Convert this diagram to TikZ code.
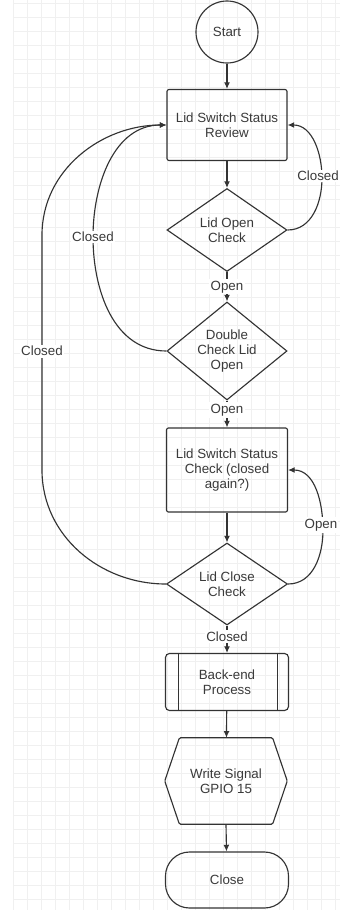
\documentclass[tikz,border=0pt]{standalone}
\usepackage{fontspec}
\setmainfont{Liberation Sans}
\usetikzlibrary{arrows.meta,shapes.geometric}
\definecolor{ink}{HTML}{333333}
\definecolor{txt}{HTML}{3A3A3A}
\begin{document}
\begin{tikzpicture}[x=0.75pt,y=-0.75pt,
  font=\fontsize{10}{11.5}\selectfont,
  every node/.style={text=txt},
  gridline/.style={draw=black!6,line width=0.4pt},
  line/.style={draw=ink,line width=0.85pt},
  arr/.style={line,-{Latex[length=5pt,width=4.5pt]}},
  box/.style={line,rectangle,rounded corners=1.5pt,align=center,inner sep=2pt,
    minimum width=90pt},
  dia/.style={line,diamond,aspect=1.3,inner sep=0pt,align=center,
    minimum width=90pt},
  startnode/.style={line,circle,minimum size=46.5pt,inner sep=0pt},
  lbl/.style={fill=white,inner sep=1.2pt},
]
\useasboundingbox (0,0) rectangle (340,910);
\fill[white] (0,0) rectangle (340,910);
\foreach \gx in {13,27,...,340} \draw[gridline] (\gx,0) -- (\gx,910);
\foreach \gy in {3,17,...,910} \draw[gridline] (13,\gy) -- (340,\gy);

\node[startnode] (start) at (227,32) {Start};
\node[box,minimum height=53.25pt] (b1) at (227,125) {Lid Switch Status\\Review};
\node[dia,minimum height=62.25pt] (d1) at (227,230) {Lid Open\\Check};
\node[dia,minimum height=73.5pt] (d2) at (227,351) {Double\\Check Lid\\Open};
\node[box,minimum width=90.75pt,minimum height=63pt] (b2) at (227,470) {Lid Switch Status\\Check (closed\\again?)};
\node[dia,minimum width=90.75pt,minimum height=61.5pt] (d3) at (227,584) {Lid Close\\Check};
\node[box,rounded corners=3pt,minimum width=92.25pt,minimum height=42.75pt] (be) at (227,682) {Back-end\\Process};
\draw[line] ([xshift=10pt]be.north west) -- ([xshift=10pt]be.south west);
\draw[line] ([xshift=-8.5pt]be.north east) -- ([xshift=-8.5pt]be.south east);
\node[align=center,inner sep=0pt,minimum width=91.5pt,minimum height=64.5pt] (hex) at (226,781) {Write Signal\\GPIO 15};
\draw[line,rounded corners=1pt] ([xshift=11pt]hex.north west) -- ([xshift=-11pt]hex.north east) -- (hex.east)
  -- ([xshift=-11pt]hex.south east) -- ([xshift=11pt]hex.south west) -- (hex.west) -- cycle;
\node[line,rectangle,rounded corners=18pt,minimum width=92.25pt,minimum height=42pt] (close) at (227,880) {Close};

\draw[arr] (start) -- (b1);
\draw[arr] (b1) -- (d1);
\draw[arr] (d1.south) -- node[lbl]{Open} (d2.north);
\draw[arr] (d2.south) -- node[lbl,pos=0.35]{Open} (b2.north);
\draw[arr] (b2) -- (d3);
\draw[arr] (d3.south) -- node[lbl,pos=0.4]{Closed} (be.north);
\draw[arr] (be) -- (hex);
\draw[arr] (hex.south) -- (close);

\coordinate (r1) at (322,178);
\draw[arr] (d1.east) to[out=0,in=-90] (r1) to[out=90,in=0] (b1.east);
\node[lbl,inner xsep=0.6pt] (l1) at (318,176) {Closed};
\coordinate (r2) at (323,530);
\draw[arr] (d3.east) to[out=0,in=-90] (r2) to[out=90,in=0] (b2.east);
\node[lbl,inner xsep=0.6pt] (l2) at (321,525) {Open};
\coordinate (m1) at (93,237);
\draw[arr] (d2.west) to[out=180,in=-90] (m1) to[out=90,in=180] (b1.west);
\node[lbl] (l3) at (m1) {Closed};
\coordinate (o1) at (42,470);
\coordinate (o2) at (42,235);
\draw[arr] (d3.west) to[out=180,in=-90] (o1) -- (o2) to[out=90,in=180] (b1.west);
\node[lbl] (l4) at (42,351) {Closed};
\end{tikzpicture}
\end{document}
